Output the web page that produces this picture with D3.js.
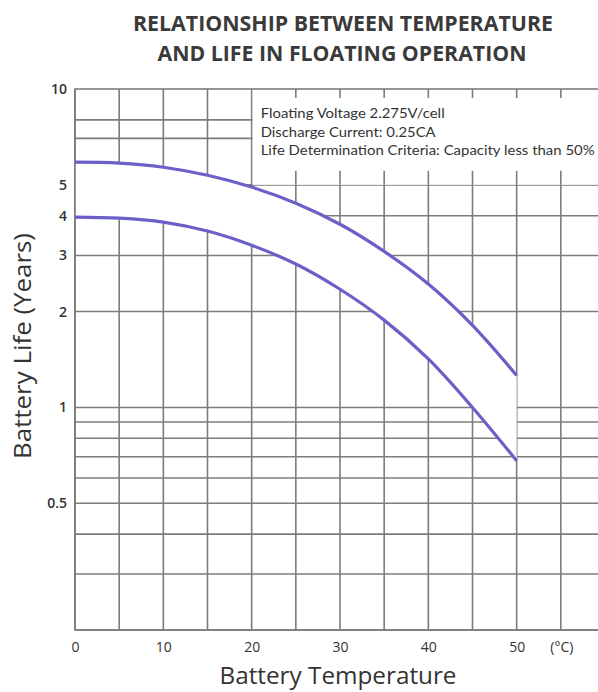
<!DOCTYPE html>
<html>
<head>
<meta charset="utf-8">
<script src="https://cdn.jsdelivr.net/npm/d3@7"></script>
<style>
  body { margin: 0; background: #fff; }
  text { font-family: "Open Sans", "Noto Sans", sans-serif; fill: #333; }
</style>
</head>
<body>
<svg id="chart" width="598" height="692"></svg>
<script>
// battery temperature (deg C) and life (years)
const temps = [0, 5, 10, 15, 20, 25, 30, 35, 40, 45, 50];
const lifeUpper = [5.89, 5.85, 5.68, 5.36, 4.92, 4.38, 3.76, 3.09, 2.44, 1.81, 1.26];
const lifeLower = [3.96, 3.93, 3.82, 3.58, 3.23, 2.82, 2.35, 1.88, 1.42, 1.0, 0.68];

const xTickValues = [0, 10, 20, 30, 40, 50];
const yTickValues = [10, 5, 4, 3, 2, 1, 0.5];
const xGridValues = [0, 5, 10, 15, 20, 25, 30, 35, 40, 45, 50, 55];
const yGridValues = [8, 7, 5, 4, 3, 2, 1, 0.9, 0.8, 0.7, 0.6, 0.5, 0.4, 0.3, 0.2];

const notes = [
  "Floating Voltage 2.275V/cell",
  "Discharge Current: 0.25CA",
  "Life Determination Criteria: Capacity less than 50%"
];
const noteWidths = [184, 175, 334];

const svg = d3.select("#chart");
const gridColor = "#7c7c7c";
const lineColor = "#6a60c8";

const x = d3.scaleLinear().domain([0, 60]).range([75, 605]);
const y = d3.scaleLog().domain([0.2, 10]).range([630, 89]);

const data = temps.map((t, i) => ({ t: t, hi: lifeUpper[i], lo: lifeLower[i] }));

// grid
const grid = svg.append("g").attr("class", "grid")
  .attr("stroke", gridColor).attr("stroke-width", 1.6);

grid.selectAll("line.v").data(xGridValues).join("line")
  .attr("class", "v")
  .attr("x1", d => x(d)).attr("x2", d => x(d))
  .attr("y1", y(10)).attr("y2", y(0.2));

grid.selectAll("line.h").data(yGridValues).join("line")
  .attr("class", "h")
  .attr("x1", x(0)).attr("x2", x(60))
  .attr("y1", d => y(d)).attr("y2", d => y(d));

// white band between the two curves
const band = d3.area()
  .x(d => x(d.t))
  .y0(d => y(d.lo))
  .y1(d => y(d.hi))
  .curve(d3.curveCatmullRom.alpha(0.5));

svg.append("path")
  .datum(data)
  .attr("fill", "#fff")
  .attr("d", band);

// note box, covers the grid from 20 deg up to the top
svg.append("rect")
  .attr("x", x(20) + 1).attr("y", y(10))
  .attr("width", x(60) - x(20)).attr("height", y(5) - y(10))
  .attr("fill", "#fff");

const boxTicks = xGridValues.filter(d => d > 20);
svg.append("g").selectAll("line").data(boxTicks).join("line")
  .attr("x1", d => x(d)).attr("x2", d => x(d))
  .attr("y1", y(10)).attr("y2", y(10) + 9)
  .attr("stroke", gridColor).attr("stroke-width", 1.6);
svg.append("g").selectAll("line").data(boxTicks).join("line")
  .attr("x1", d => x(d)).attr("x2", d => x(d))
  .attr("y1", y(5) - 14).attr("y2", y(5))
  .attr("stroke", gridColor).attr("stroke-width", 1.6);

// frame
svg.append("rect")
  .attr("x", x(0)).attr("y", y(10))
  .attr("width", x(60) - x(0)).attr("height", y(0.2) - y(10))
  .attr("fill", "none").attr("stroke", gridColor).attr("stroke-width", 1.6);

// curves
const line = key => d3.line()
  .x(d => x(d.t))
  .y(d => y(d[key]))
  .curve(d3.curveCatmullRom.alpha(0.5));

svg.selectAll("path.life").data(["hi", "lo"]).join("path")
  .attr("class", "life")
  .attr("fill", "none")
  .attr("stroke", lineColor)
  .attr("stroke-width", 3.2)
  .attr("d", k => line(k)(data));

// notes
svg.append("g").selectAll("text").data(notes).join("text")
  .attr("x", x(20) + 9)
  .attr("y", (d, i) => 118 + i * 18.5)
  .attr("textLength", (d, i) => noteWidths[i])
  .attr("lengthAdjust", "spacingAndGlyphs")
  .style("font-family", "Lato, sans-serif")
  .style("font-size", "14px")
  .text(d => d);

// axes
const yAxis = svg.append("g")
  .attr("transform", `translate(${x(0)},0)`)
  .call(d3.axisLeft(y).tickValues(yTickValues).tickSize(0).tickPadding(8)
    .tickFormat(d => d));
yAxis.select(".domain").remove();
yAxis.selectAll("text")
  .style("font-size", "14px").style("font-weight", "600")
  .style("font-family", "\"Open Sans\", sans-serif").attr("fill", "#333");

const xAxis = svg.append("g")
  .attr("transform", `translate(0,${y(0.2)})`)
  .call(d3.axisBottom(x).tickValues(xTickValues).tickSize(0).tickPadding(12));
xAxis.select(".domain").remove();
xAxis.selectAll("text")
  .style("font-size", "14px")
  .style("font-family", "\"Open Sans\", sans-serif").attr("fill", "#333");

svg.append("text")
  .attr("x", x(55) + 1).attr("y", y(0.2) + 12).attr("dy", "0.71em")
  .attr("text-anchor", "middle")
  .style("font-size", "14px")
  .text("(°C)");

// titles
svg.append("text")
  .attr("x", 343).attr("y", 31)
  .attr("text-anchor", "middle")
  .attr("textLength", 420).attr("lengthAdjust", "spacingAndGlyphs")
  .style("font-size", "22px").style("font-weight", "700")
  .style("fill", "#3a3a3a")
  .text("RELATIONSHIP BETWEEN TEMPERATURE");
svg.append("text")
  .attr("x", 342).attr("y", 61)
  .attr("text-anchor", "middle")
  .attr("textLength", 369).attr("lengthAdjust", "spacingAndGlyphs")
  .style("font-size", "22px").style("font-weight", "700")
  .style("fill", "#3a3a3a")
  .text("AND LIFE IN FLOATING OPERATION");

svg.append("text")
  .attr("transform", "translate(31,346) rotate(-90)")
  .attr("text-anchor", "middle")
  .attr("textLength", 226).attr("lengthAdjust", "spacingAndGlyphs")
  .style("font-size", "23px")
  .text("Battery Life (Years)");

svg.append("text")
  .attr("x", 338).attr("y", 684)
  .attr("text-anchor", "middle")
  .attr("textLength", 237).attr("lengthAdjust", "spacingAndGlyphs")
  .style("font-size", "23px")
  .text("Battery Temperature");
</script>
</body>
</html>
